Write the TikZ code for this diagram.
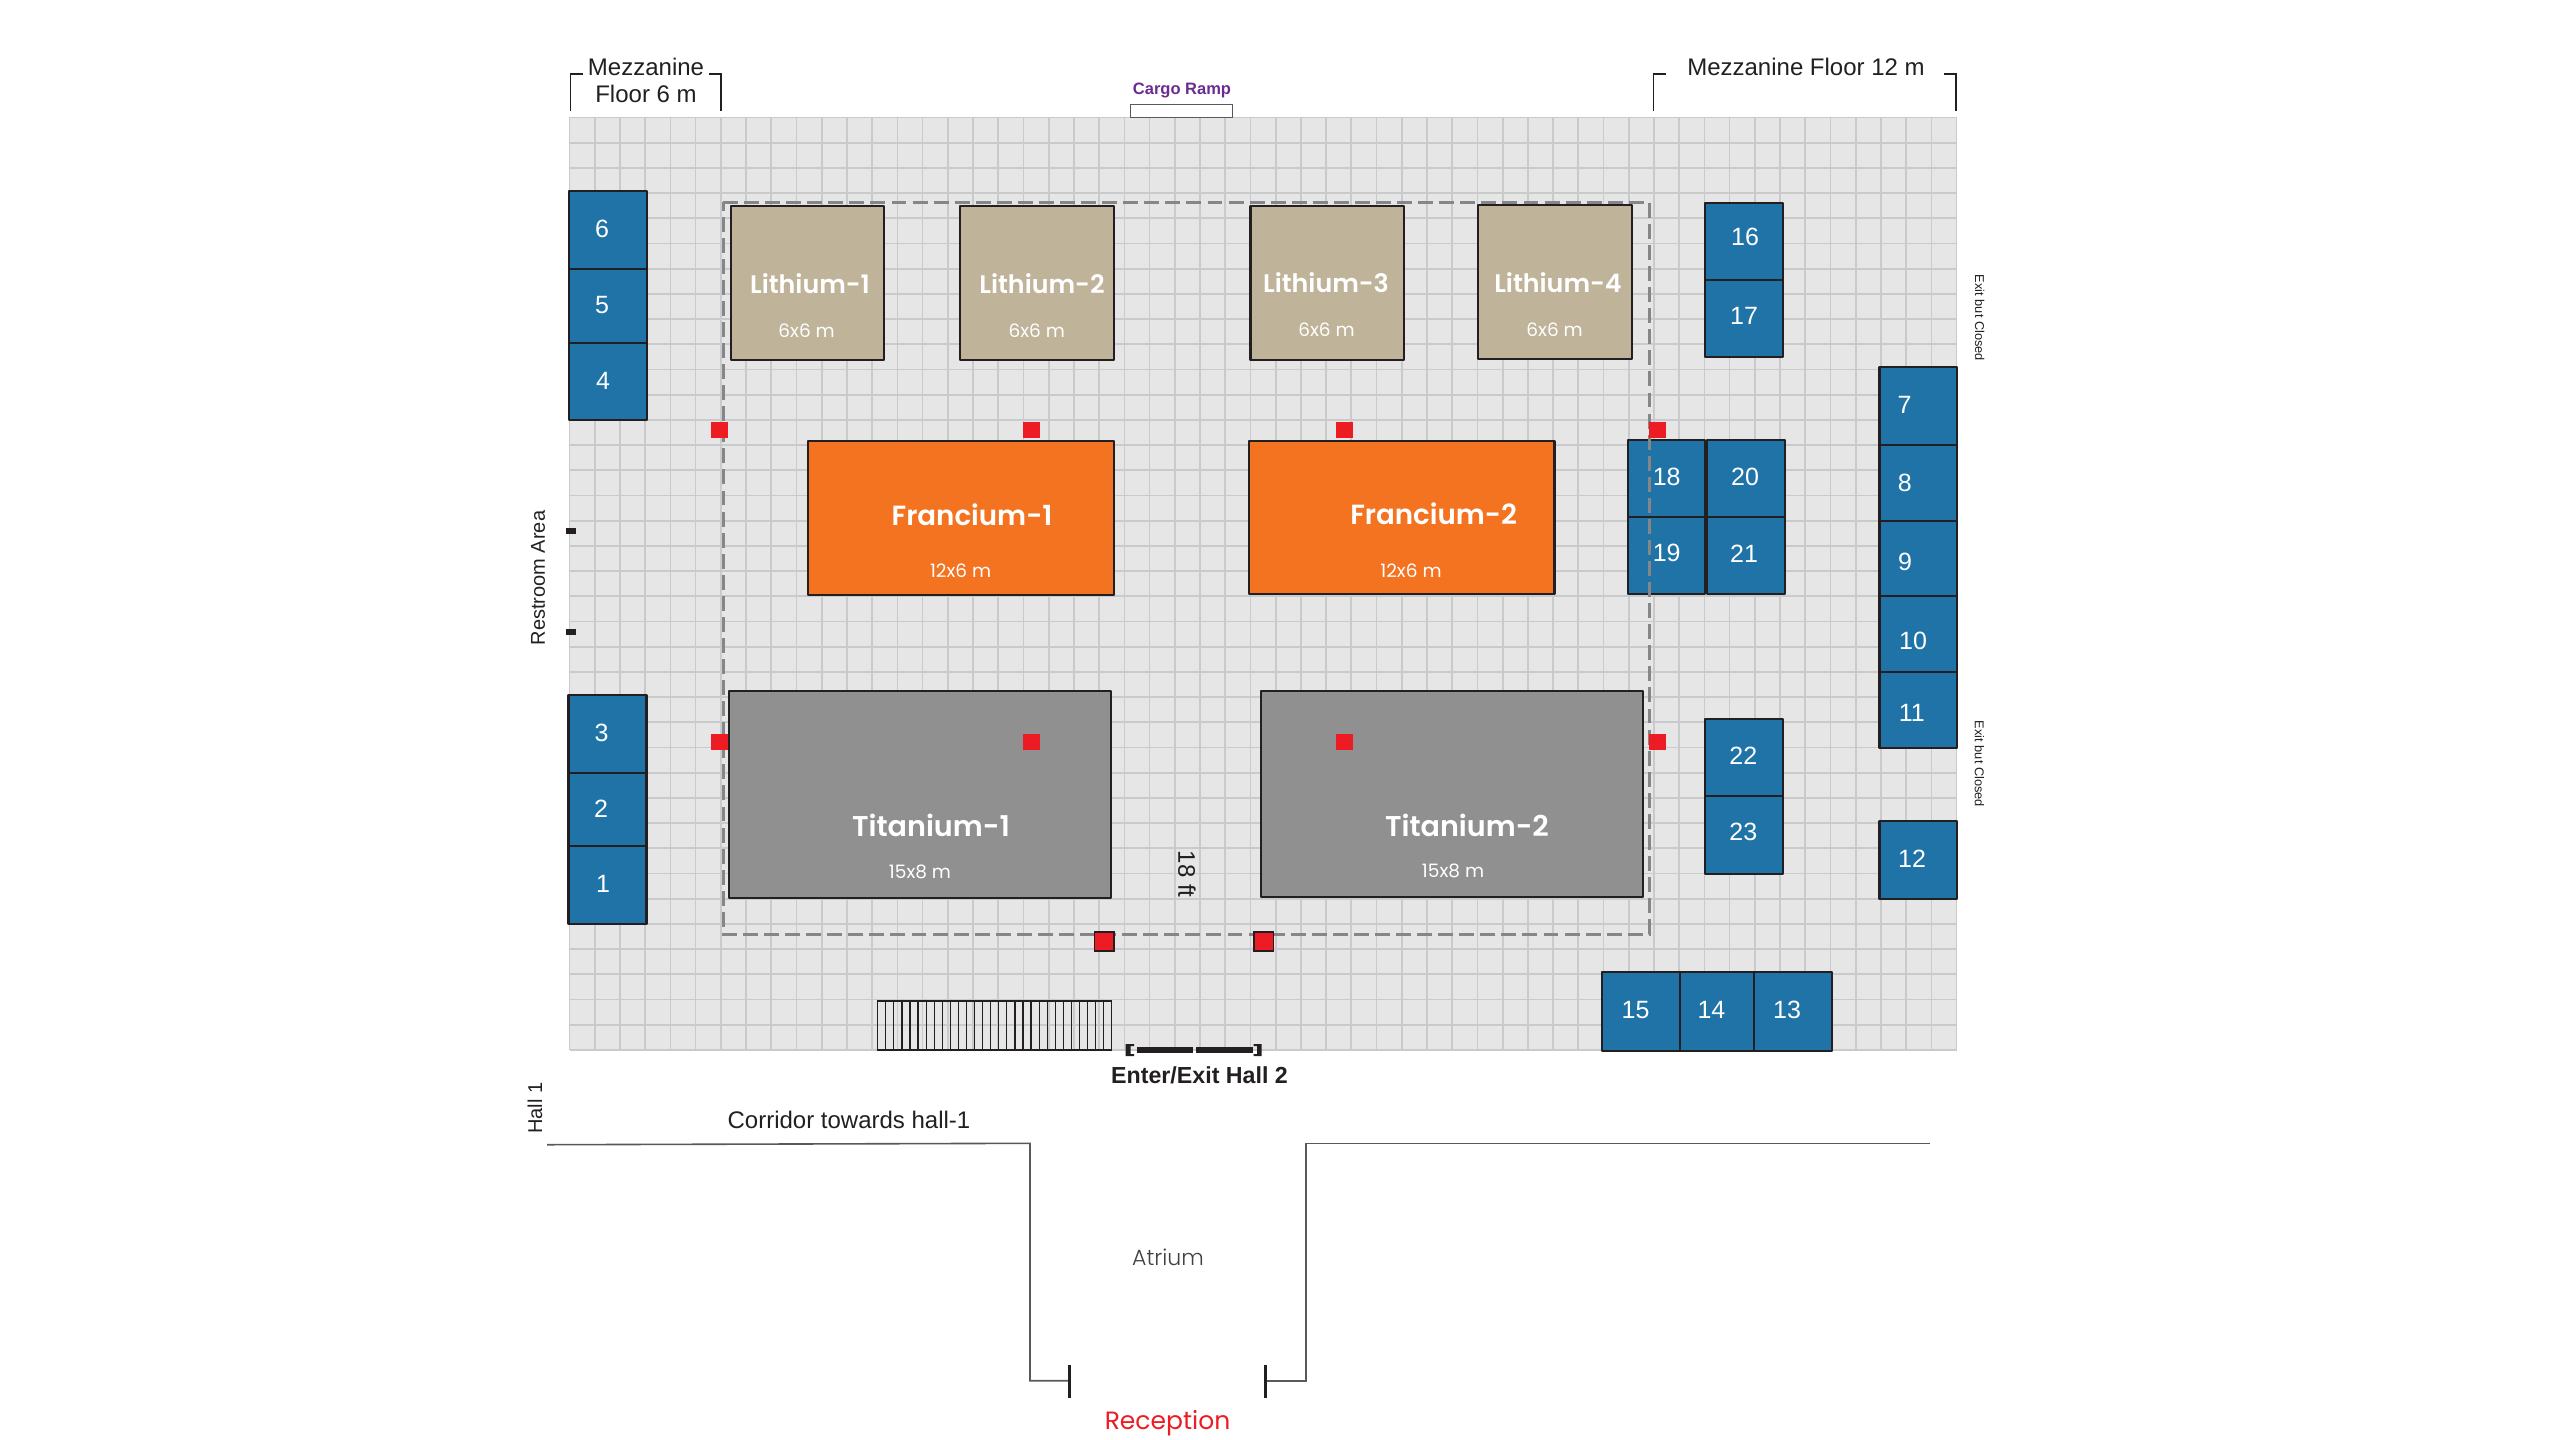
\documentclass[tikz,border=0pt]{standalone}
\usepackage{fontspec}
\setmainfont{Liberation Sans}
\newfontfamily\popm{Poppins}[UprightFont=* SemiBold]
\newfontfamily\popr{Poppins}
\newfontfamily\popl{Poppins}[UprightFont=* Light]
\newcommand{\fpx}[1]{\fontsize{\the\dimexpr #1pt*3/8\relax}{\the\dimexpr #1pt*9/16\relax}\selectfont}
\definecolor{gridfill}{HTML}{E6E6E6}
\definecolor{gridline}{HTML}{C8CACB}
\definecolor{bluebox}{HTML}{1F73A7}
\definecolor{tanbox}{HTML}{BFB399}
\definecolor{orangebox}{HTML}{F37321}
\definecolor{graybox}{HTML}{909091}
\definecolor{edgeink}{HTML}{231F20}
\definecolor{redmark}{HTML}{ED1C24}
\definecolor{dashink}{HTML}{848688}
\definecolor{rampink}{HTML}{6A2C91}
\definecolor{wallink}{HTML}{58595B}
\definecolor{atriumink}{HTML}{414042}
\tikzset{
  x=0.375pt,y=-0.375pt,
  px/.style={line width=#1*0.375pt},
  zone/.style={draw=edgeink,px=2.2,line join=round},
  bluezone/.style={zone,fill=bluebox},
  tanzone/.style={zone,fill=tanbox},
  orangezone/.style={zone,fill=orangebox},
  grayzone/.style={zone,fill=graybox},
  redmarker/.style={fill=redmark},
  redboxed/.style={fill=redmark,draw=edgeink,px=1.6},
  num/.style={text=white,font=\fpx{25},inner sep=0pt},
  hlarge/.style={text=white,font=\popm\fpx{27.7},inner sep=0pt},
  htitan/.style={text=white,font=\popm\fpx{28.6},inner sep=0pt},
  hsmall/.style={text=white,font=\popm\fpx{25.4},inner sep=0pt},
  sub/.style={text=white,font=\popr\fpx{18.5},inner sep=0pt},
  label/.style={text=edgeink,font=\fpx{24},inner sep=0pt},
  bracketline/.style={draw=edgeink,px=1.6},
  wall/.style={draw=wallink,px=1.6},
  post/.style={draw=edgeink,px=3},
}
\begin{document}
\begin{tikzpicture}
\useasboundingbox (0,0) rectangle (2560,1439);
\fill[white] (0,0) rectangle (2560,1439);
% floor grid
\fill[gridfill] (569.5,117) rectangle (1956.5,1049.5);
\foreach \i in {0,...,55} \draw[gridline,px=1.7] ({569.5+25.22*\i},117) -- ({569.5+25.22*\i},1049.5);
\foreach \j in {0,...,37} \draw[gridline,px=1.7] (569.5,{117.5+25.2*\j}) -- (1956.5,{117.5+25.2*\j});
% brackets
\draw[bracketline] (583,74) -- (570.4,74) -- (570.4,110.7);
\draw[bracketline] (709,74) -- (721,74) -- (721,110.7);
\draw[bracketline] (1666,74) -- (1653.6,74) -- (1653.6,110.7);
\draw[bracketline] (1944,74) -- (1956,74) -- (1956,110.7);
\node[label] (mezzA) at (646,67) {Mezzanine};
\node[label] (mezzB) at (646,94) {Floor 6 m};
\node[label] (mezzC) at (1806,67) {Mezzanine Floor 12 m};
% cargo ramp
\path[draw=wallink,fill=white,px=1.5] (1130.6,104.7) rectangle (1232.7,117.3);
\node[inner sep=0pt,text=rampink,font=\bfseries\fpx{16.5}] (cargo) at (1182,90.5) {Cargo Ramp};
% left blue
\path[bluezone] (569,191) rectangle (647,269);
\path[bluezone] (569,269) rectangle (647,342.7);
\path[bluezone] (569,342.7) rectangle (647,420.3);
\path[bluezone] (568.5,695.3) rectangle (646.5,773.3);
\path[bluezone] (568.5,773.3) rectangle (646.5,846);
\path[bluezone] (568.5,846) rectangle (646.5,924.3);
% right blue
\path[bluezone] (1705,203.3) rectangle (1783,280.3);
\path[bluezone] (1705,280.3) rectangle (1783,356.7);
\path[bluezone] (1879.5,367) rectangle (1957,445);
\path[bluezone] (1879.5,445) rectangle (1957,520.7);
\path[bluezone] (1879.5,520.7) rectangle (1957,596.3);
\path[bluezone] (1879.5,596.3) rectangle (1957,672.3);
\path[bluezone] (1879.5,672.3) rectangle (1957,747.7);
\path[bluezone] (1879.5,821.3) rectangle (1957,899);
\path[bluezone] (1627.7,440) rectangle (1705.3,516.7);
\path[bluezone] (1627.7,516.7) rectangle (1705.3,594.3);
\path[bluezone] (1707,440) rectangle (1784.7,516.7);
\path[bluezone] (1707,516.7) rectangle (1784.7,594.3);
\path[bluezone] (1704.7,719.3) rectangle (1782.7,796);
\path[bluezone] (1704.7,796) rectangle (1782.7,873.7);
\path[bluezone] (1602.3,972) rectangle (1679.8,1050.7);
\path[bluezone] (1679.8,972) rectangle (1753.8,1050.7);
\path[bluezone] (1753.8,972) rectangle (1832,1050.7);
% halls
\path[tanzone] (730.6,206) rectangle (884.2,360);
\path[tanzone] (960.2,206.3) rectangle (1113.8,360.3);
\path[tanzone] (1250.4,206) rectangle (1404,359.7);
\path[tanzone] (1478,205.3) rectangle (1632,359.3);
\path[orangezone] (808,441) rectangle (1113.7,595);
\path[orangezone] (1249,441) rectangle (1554.5,594.3);
\path[grayzone] (729,691.3) rectangle (1111,897.7);
\path[grayzone] (1260.7,691.3) rectangle (1642.7,896.7);
% dashed limit
\draw[dashink,px=3,dash pattern=on 5.6pt off 2.3pt] (723,202) -- (1649,202) -- (1649,934) -- (723,934) -- cycle;
% red markers
\fill[redmarker] (710.7,422.3) rectangle (727.5,438);
\fill[redmarker] (1023,422.3) rectangle (1040,438);
\fill[redmarker] (1336,422.3) rectangle (1352.5,438);
\fill[redmarker] (1649,422.3) rectangle (1665.5,438);
\fill[redmarker] (710.7,734) rectangle (727.5,750);
\fill[redmarker] (1023,734) rectangle (1040,750);
\fill[redmarker] (1336,734) rectangle (1352.5,750);
\fill[redmarker] (1649,734) rectangle (1665.5,750);
\path[redboxed] (1094.4,932) rectangle (1113.8,951);
\path[redboxed] (1254,932) rectangle (1273.5,951);
% numbers
\node[num] (n6) at (602,229) {6};
\node[num] (n5) at (602,305) {5};
\node[num] (n4) at (603,381) {4};
\node[num] (n3) at (601.5,733.3) {3};
\node[num] (n2) at (601,808.3) {2};
\node[num] (n1) at (603,884) {1};
\node[num] (n16) at (1745,237.3) {16};
\node[num] (n17) at (1744,315.7) {17};
\node[num] (n7) at (1904.6,405) {7};
\node[num] (n8) at (1904.7,483.3) {8};
\node[num] (n9) at (1905,562.3) {9};
\node[num] (n10) at (1913,640.7) {10};
\node[num] (n11) at (1911.7,712.7) {11};
\node[num] (n12) at (1912,858.7) {12};
\node[num] (n18) at (1666.7,476.7) {18};
\node[num] (n19) at (1666.7,553.3) {19};
\node[num] (n20) at (1745,476.7) {20};
\node[num] (n21) at (1744,553.3) {21};
\node[num] (n22) at (1743.3,755.3) {22};
\node[num] (n23) at (1743.3,832) {23};
\node[num] (n15) at (1635.6,1010) {15};
\node[num] (n14) at (1711.4,1010) {14};
\node[num] (n13) at (1787,1010) {13};
% hall names
\node[hsmall] (li1) at (810,283.5) {Lithium-1};
\node[sub] (li1s) at (806.6,331) {6x6 m};
\node[hsmall] (li2) at (1042,283.5) {Lithium-2};
\node[sub] (li2s) at (1036.7,331) {6x6 m};
\node[hsmall] (li3) at (1326,282.5) {Lithium-3};
\node[sub] (li3s) at (1326.5,330) {6x6 m};
\node[hsmall] (li4) at (1558,282.5) {Lithium-4};
\node[sub] (li4s) at (1554.6,330) {6x6 m};
\node[hlarge] (fr1) at (972,514.5) {Francium-1};
\node[sub] (fr1s) at (960.6,570.7) {12x6 m};
\node[hlarge] (fr2) at (1433.6,513.5) {Francium-2};
\node[sub] (fr2s) at (1411,570.7) {12x6 m};
\node[htitan] (ti1) at (931,825.5) {Titanium-1};
\node[sub] (ti1s) at (920,871.7) {15x8 m};
\node[htitan] (ti2) at (1467,825) {Titanium-2};
\node[sub] (ti2s) at (1453,871) {15x8 m};
% side labels
\node[label,rotate=-90] (ft) at (1187,874) {18 ft};
\node[label,rotate=90,font=\fpx{20}] (rest) at (538,578) {Restroom Area};
\node[label,rotate=90,font=\fpx{20}] (hall) at (535,1108) {Hall 1};
\node[label,rotate=-90,font=\fpx{12.8}] (ex1) at (1979.6,318) {Exit but Closed};
\node[label,rotate=-90,font=\fpx{12.8}] (ex2) at (1979.3,764) {Exit but Closed};
% restroom ticks
\fill[edgeink] (565.7,527.7) rectangle (575.7,534);
\fill[edgeink] (565.7,629) rectangle (575.7,635);
% stairs
\draw[edgeink,px=1.2] (877.7,1001) rectangle (1111.7,1050);
\foreach \k in {1,...,28} \draw[edgeink,px=1.2] ({877.7+8.07*\k},1001) -- ({877.7+8.07*\k},1050);
% door
\fill[edgeink] (1136.7,1046.8) rectangle (1193.3,1053.2);
\fill[edgeink] (1196,1046.8) rectangle (1253.3,1053.2);
\fill[edgeink] (1125.7,1044) rectangle (1134,1046) (1125.7,1054) rectangle (1134,1056) (1125.7,1044) rectangle (1130.5,1056);
\fill[edgeink] (1253.5,1044) rectangle (1261.7,1046) (1253.5,1054) rectangle (1261.7,1056) (1257,1044) rectangle (1261.7,1056);
\node[inner sep=0pt,text=edgeink,font=\bfseries\fpx{23.2}] (door) at (1199.5,1075.7) {Enter/Exit Hall 2};
% corridor walls
\draw[wall] (547,1144.7) -- (1030,1143.3) -- (1030,1380.7) -- (1069.5,1380.7);
\draw[wall] (1265.4,1380.7) -- (1305.7,1380.7) -- (1305.7,1143.3) -- (1929.5,1143.3);
\draw[post] (1069.5,1365) -- (1069.5,1398);
\draw[post] (1265.4,1365) -- (1265.4,1398);
\node[label] (corr) at (849,1120) {Corridor towards hall-1};
\node[inner sep=0pt,text=atriumink,font=\popl\fpx{22}] (atr) at (1168,1257) {Atrium};
\node[inner sep=0pt,text=redmark,font=\popr\fpx{25}] (rec) at (1167.5,1423) {Reception};
\end{tikzpicture}
\end{document}
